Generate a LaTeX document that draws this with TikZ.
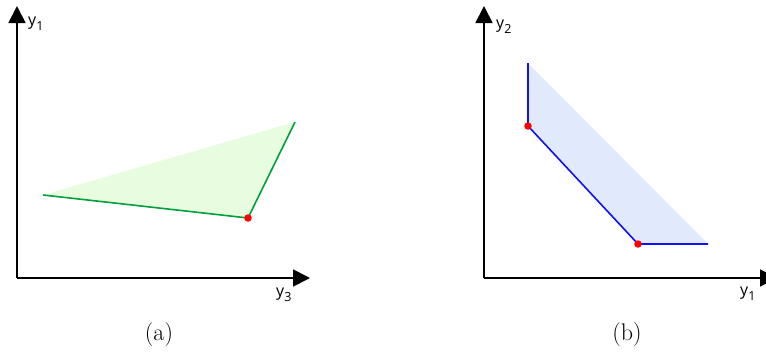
\documentclass[tikz,border=0pt]{standalone}
\usepackage{fontspec}
\newfontfamily\labfont{Open Sans}
\usetikzlibrary{arrows.meta}
\definecolor{axgreen}{HTML}{00A03C}
\definecolor{fillgreen}{HTML}{E8FCE0}
\definecolor{axblue}{HTML}{1010F0}
\definecolor{fillblue}{HTML}{E0EAFC}
\newcommand{\ylab}[1]{y\raisebox{-5pt}{\fontsize{12.5}{13}\selectfont #1}}
\tikzset{
  axis/.style={line width=1.8pt, -{Triangle[length=17pt,width=17pt]}},
  axlab/.style={font=\labfont\fontsize{16}{18}\selectfont, inner sep=0pt, anchor=base west},
  caption/.style={font=\fontsize{24}{28}\selectfont, inner sep=0pt},
  vertex/.style={circle, fill=red, inner sep=0pt, minimum size=7.5pt},
}
\begin{document}
\begin{tikzpicture}[x=1pt,y=-1pt]
\useasboundingbox (0,0) rectangle (766,356);
% panel (a)
\coordinate (oa) at (17,278);
\coordinate (ya) at (17,6);
\coordinate (xa) at (310,278);
\fill[fillgreen] (43,195) -- (248,218) -- (295,122) -- cycle;
\draw[axgreen, line width=1.6pt] (43,195) -- (248,218) -- (295,122);
\node[vertex] (pa) at (248,218) {};
\draw[axis] (oa) -- (ya);
\draw[axis] (oa) -- (xa);
\node[axlab] (la1) at (28,25.5) {\ylab{1}};
\node[axlab] (la3) at (276,296.5) {\ylab{3}};
\node[caption] (capa) at (159,335) {(a)};
% panel (b)
\coordinate (ob) at (484,278);
\coordinate (yb) at (484,6);
\coordinate (xb) at (777,278);
\fill[fillblue] (528,63) -- (528,126) -- (638,244) -- (708,244) -- cycle;
\draw[axblue, line width=1.6pt] (528,63) -- (528,126) -- (638,244) -- (708,244);
\node[vertex] (pb1) at (528,126) {};
\node[vertex] (pb2) at (638,244) {};
\draw[axis] (ob) -- (yb);
\draw[axis] (ob) -- (xb);
\node[axlab] (lb2) at (496,28) {\ylab{2}};
\node[axlab] (lb1) at (740,295) {\ylab{1}};
\node[caption] (capb) at (627,335) {(b)};
\end{tikzpicture}
\end{document}
